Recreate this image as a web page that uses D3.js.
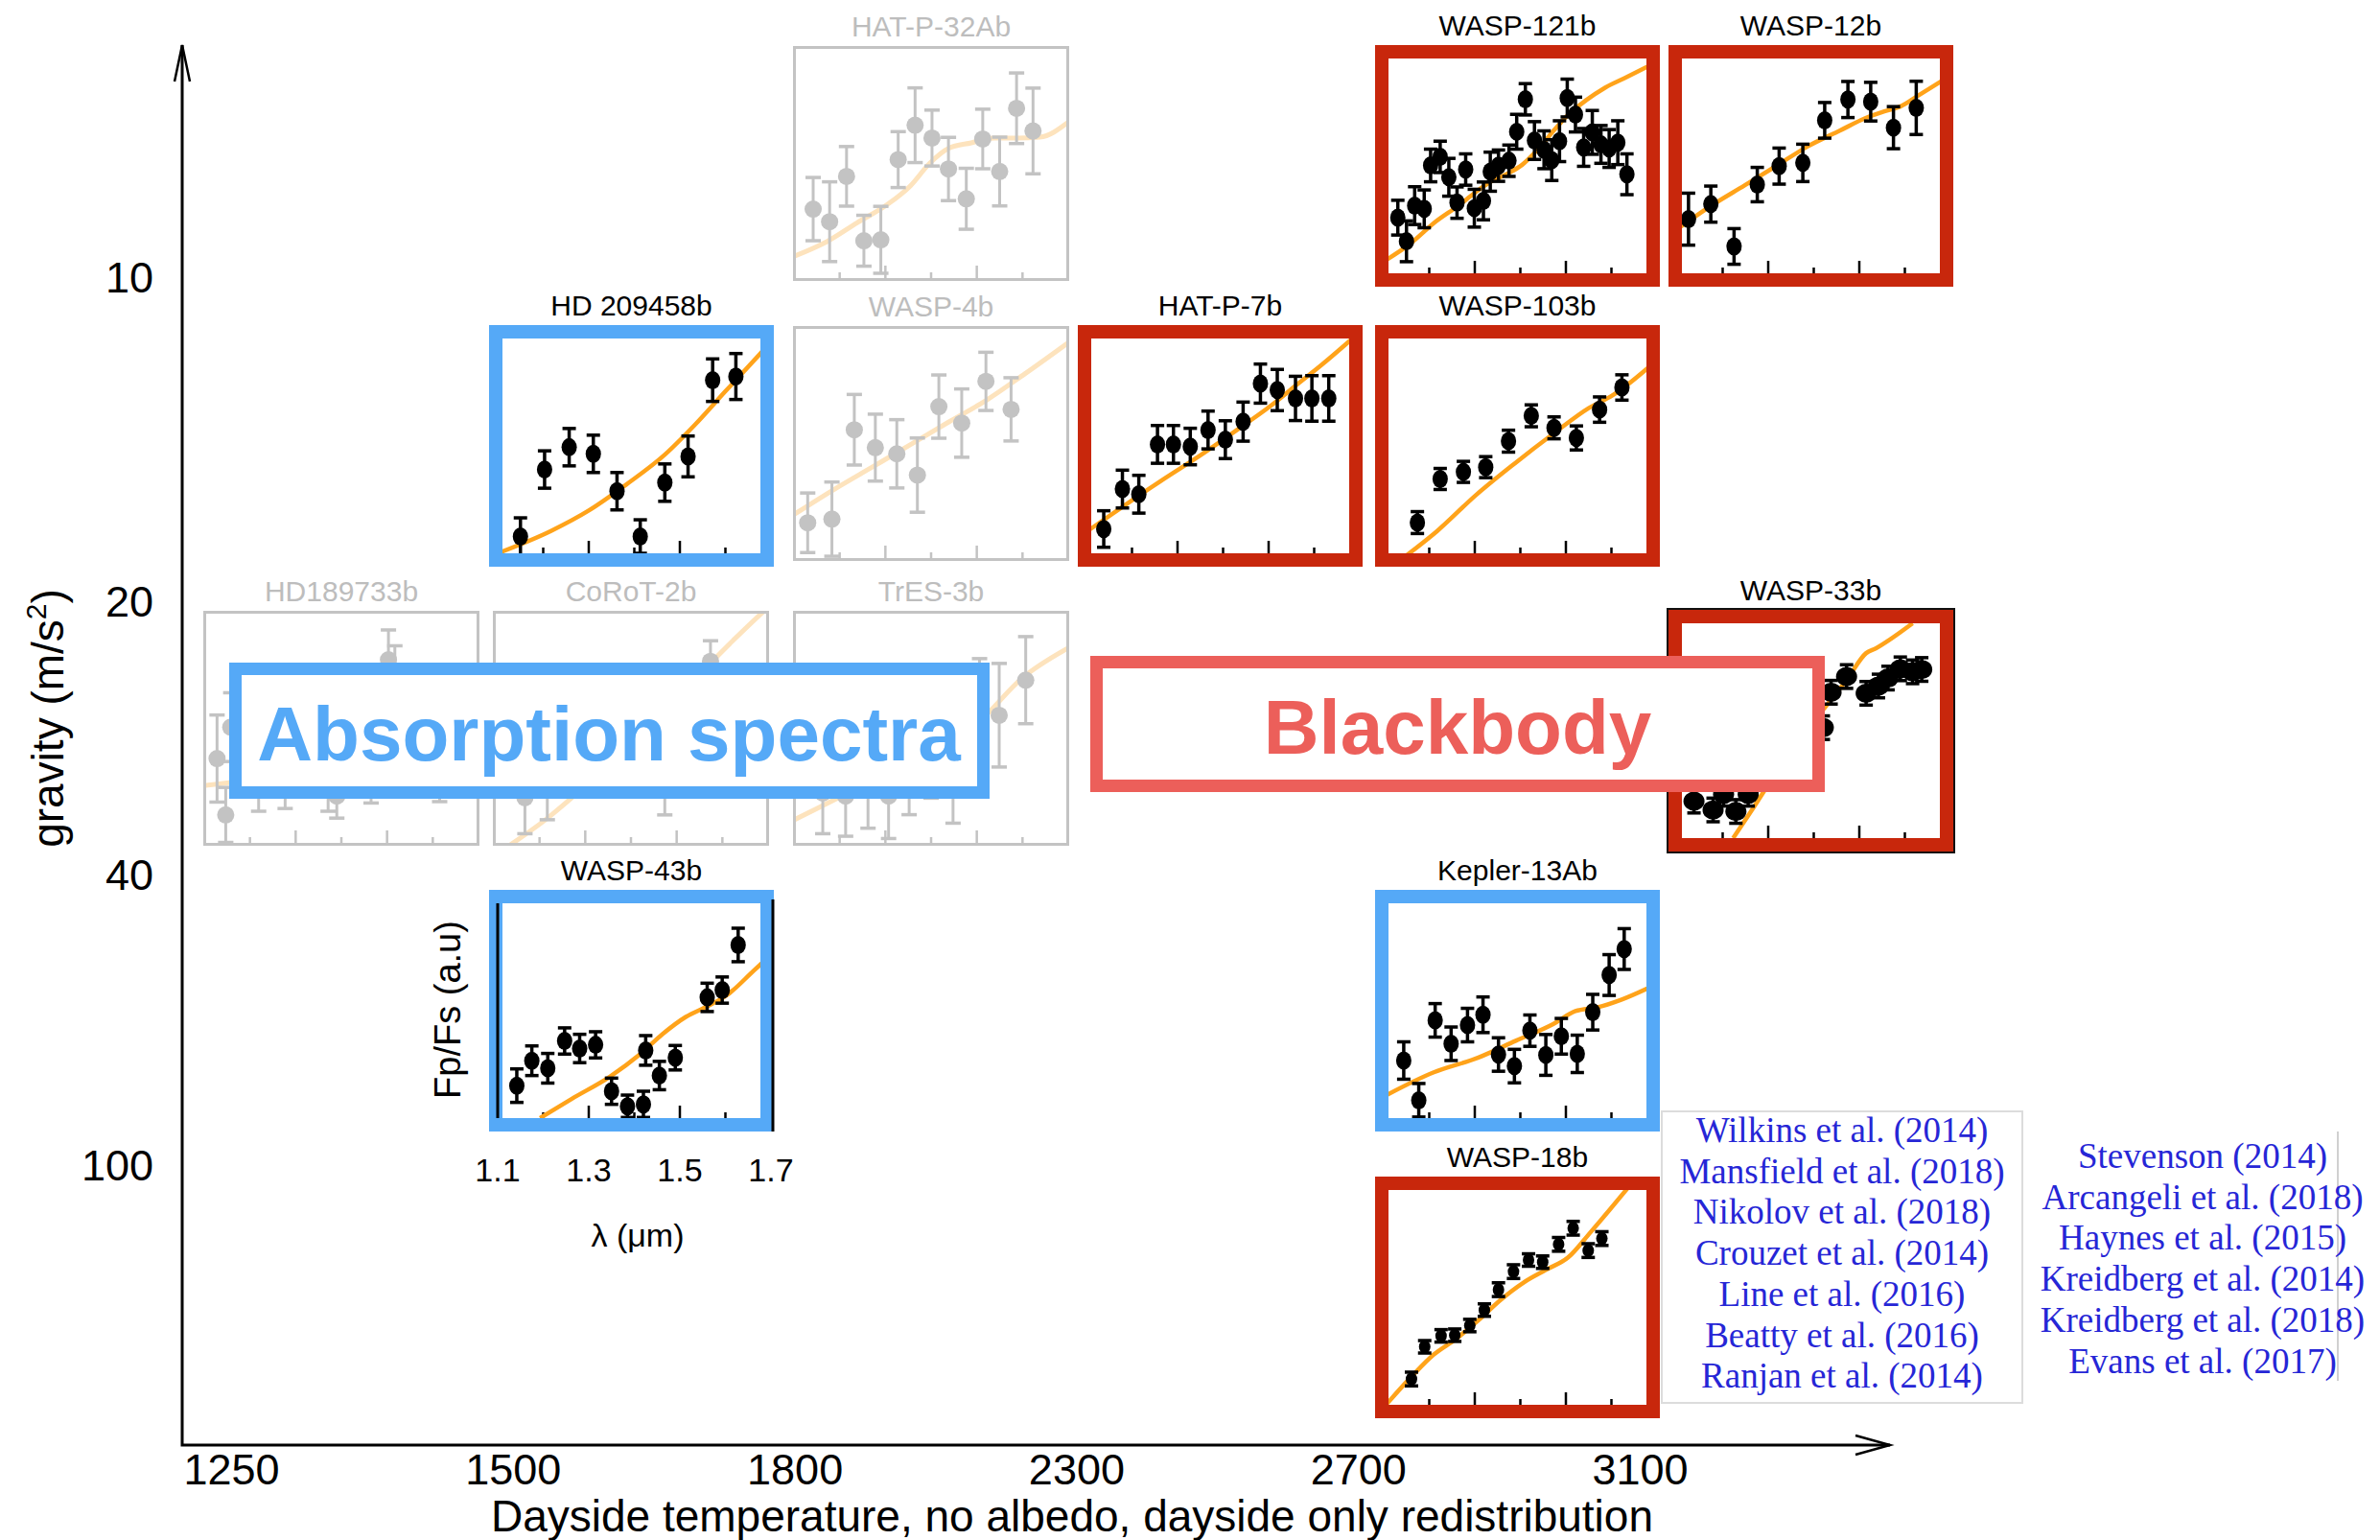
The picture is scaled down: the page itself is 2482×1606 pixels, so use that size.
<!DOCTYPE html>
<html>
<head>
<meta charset="utf-8">
<script src="https://cdn.jsdelivr.net/npm/d3@7"></script>
<style>
  html, body { margin: 0; padding: 0; background: #fff; }
  svg { display: block; }
  text { font-family: "Liberation Sans", Arial, Helvetica, sans-serif; }
</style>
</head>
<body>
<div id="chart"></div>
<script>
const width = 2482;
const height = 1606;

// main axes
const tempTicks = ["1250", "1500", "1800", "2300", "2700", "3100"];
const gravityTicks = [10, 20, 40, 100];

// wavelength ticks inside each small panel
const lambdaTicks = [1.2, 1.3, 1.4, 1.5, 1.6];
const lambdaMajor = [1.3, 1.5];
const lambdaLabels = [1.1, 1.3, 1.5, 1.7];

// spectra: [wavelength um, flux (a.u.), error]
const hatp32Points = [[1.142,0.301,0.138],[1.178,0.246,0.174],[1.215,0.444,0.130],[1.253,0.163,0.111],[1.290,0.167,0.146],[1.328,0.517,0.122],[1.365,0.667,0.163],[1.402,0.611,0.122],[1.438,0.476,0.138],[1.477,0.346,0.133],[1.513,0.607,0.130],[1.550,0.465,0.150],[1.587,0.741,0.154],[1.623,0.642,0.187]];
const hatp32Model = [[1.100,0.095],[1.172,0.159],[1.238,0.241],[1.305,0.322],[1.355,0.403],[1.397,0.501],[1.438,0.566],[1.488,0.590],[1.538,0.611],[1.588,0.611],[1.638,0.615],[1.700,0.680]];

const wasp121Points = [[1.131,0.259,0.081],[1.150,0.149,0.095],[1.168,0.315,0.088],[1.189,0.300,0.088],[1.203,0.502,0.076],[1.224,0.542,0.073],[1.243,0.447,0.088],[1.261,0.329,0.073],[1.280,0.483,0.073],[1.299,0.303,0.088],[1.319,0.337,0.088],[1.334,0.473,0.091],[1.352,0.501,0.073],[1.375,0.524,0.073],[1.392,0.659,0.081],[1.411,0.810,0.073],[1.431,0.618,0.088],[1.452,0.575,0.088],[1.469,0.527,0.095],[1.486,0.615,0.095],[1.503,0.816,0.088],[1.521,0.739,0.081],[1.539,0.586,0.088],[1.558,0.656,0.102],[1.577,0.600,0.088],[1.595,0.581,0.088],[1.614,0.608,0.102],[1.634,0.461,0.095]];
const wasp121Model = [[1.100,0.055],[1.159,0.139],[1.215,0.242],[1.264,0.315],[1.299,0.373],[1.334,0.425],[1.369,0.461],[1.404,0.505],[1.439,0.578],[1.474,0.666],[1.502,0.732],[1.544,0.805],[1.586,0.864],[1.635,0.915],[1.700,0.985]];

const wasp12Points = [[1.125,0.252,0.121],[1.174,0.322,0.084],[1.225,0.125,0.083],[1.276,0.413,0.080],[1.324,0.499,0.084],[1.376,0.514,0.087],[1.424,0.712,0.083],[1.475,0.809,0.084],[1.525,0.799,0.090],[1.575,0.678,0.098],[1.625,0.770,0.124]];
const wasp12Model = [[1.100,0.205],[1.178,0.319],[1.248,0.409],[1.317,0.499],[1.387,0.591],[1.457,0.664],[1.513,0.722],[1.555,0.754],[1.590,0.776],[1.632,0.831],[1.700,0.920]];

const hd209Points = [[1.150,0.078,0.087],[1.203,0.390,0.087],[1.257,0.494,0.087],[1.310,0.463,0.087],[1.362,0.289,0.087],[1.413,0.078,0.078],[1.467,0.329,0.087],[1.518,0.451,0.095],[1.572,0.806,0.099],[1.623,0.823,0.107]];
const hd209Model = [[1.100,0.000],[1.217,0.104],[1.300,0.199],[1.383,0.321],[1.467,0.459],[1.533,0.598],[1.600,0.754],[1.683,0.945],[1.700,0.985]];

const wasp4Points = [[1.130,0.154,0.130],[1.183,0.170,0.162],[1.232,0.560,0.154],[1.278,0.482,0.146],[1.325,0.455,0.149],[1.370,0.362,0.162],[1.417,0.661,0.138],[1.467,0.589,0.149],[1.520,0.771,0.127],[1.575,0.649,0.138]];
const wasp4Model = [[1.100,0.190],[1.188,0.300],[1.272,0.398],[1.355,0.495],[1.438,0.593],[1.522,0.690],[1.605,0.804],[1.700,0.940]];

const hatp7Points = [[1.138,0.113,0.085],[1.179,0.299,0.088],[1.215,0.275,0.088],[1.256,0.507,0.088],[1.291,0.507,0.088],[1.328,0.497,0.085],[1.367,0.574,0.088],[1.405,0.529,0.088],[1.444,0.613,0.091],[1.482,0.790,0.091],[1.519,0.760,0.096],[1.559,0.721,0.103],[1.595,0.721,0.106],[1.632,0.721,0.106]];
const hatp7Model = [[1.100,0.100],[1.179,0.216],[1.264,0.338],[1.350,0.456],[1.435,0.581],[1.503,0.684],[1.563,0.787],[1.615,0.875],[1.700,1.030]];

const wasp103Points = [[1.174,0.143,0.051],[1.224,0.346,0.049],[1.275,0.379,0.049],[1.324,0.401,0.049],[1.374,0.522,0.051],[1.424,0.640,0.051],[1.474,0.584,0.051],[1.523,0.537,0.056],[1.574,0.669,0.059],[1.623,0.772,0.059]];
const wasp103Model = [[1.150,-0.010],[1.217,0.103],[1.303,0.272],[1.388,0.419],[1.474,0.559],[1.550,0.676],[1.602,0.735],[1.700,0.900]];

const hd189Points = [[1.128,0.368,0.190],[1.147,0.122,0.120],[1.158,0.505,0.150],[1.219,0.286,0.148],[1.277,0.300,0.150],[1.371,0.286,0.148],[1.390,0.204,0.096],[1.465,0.327,0.153],[1.503,0.799,0.130],[1.517,0.710,0.150],[1.615,0.340,0.160]];
const hd189Model = [[1.100,0.250],[1.300,0.300],[1.500,0.360],[1.700,0.420]];

const corot2Points = [[1.168,0.197,0.157],[1.217,0.231,0.130],[1.265,0.340,0.130],[1.326,0.395,0.140],[1.378,0.450,0.140],[1.474,0.272,0.150],[1.574,0.792,0.090]];
const corot2Model = [[1.135,-0.010],[1.213,0.101],[1.283,0.218],[1.400,0.420],[1.500,0.620],[1.578,0.792],[1.690,1.010]];

const tres3Points = [[1.163,0.218,0.178],[1.213,0.204,0.175],[1.262,0.259,0.195],[1.307,0.204,0.185],[1.352,0.313,0.190],[1.400,0.395,0.200],[1.448,0.286,0.200],[1.506,0.587,0.217],[1.549,0.557,0.226],[1.607,0.710,0.190]];
const tres3Model = [[1.100,0.100],[1.200,0.200],[1.300,0.300],[1.400,0.400],[1.500,0.520],[1.600,0.720],[1.700,0.850]];

const wasp33Points = [[1.137,0.172,0.055],[1.179,0.131,0.055],[1.202,0.204,0.055],[1.229,0.124,0.055],[1.256,0.204,0.055],[1.287,0.277,0.055],[1.313,0.336,0.055],[1.340,0.394,0.055],[1.367,0.453,0.055],[1.394,0.496,0.055],[1.421,0.514,0.055],[1.438,0.679,0.055],[1.472,0.752,0.055],[1.515,0.674,0.055],[1.542,0.708,0.055],[1.563,0.745,0.055],[1.590,0.788,0.055],[1.617,0.774,0.055],[1.637,0.785,0.055]];
const wasp33Model = [[1.223,0.000],[1.260,0.117],[1.313,0.292],[1.361,0.453],[1.421,0.599],[1.475,0.745],[1.515,0.861],[1.536,0.883],[1.569,0.927],[1.617,1.000]];

const wasp43Points = [[1.142,0.151,0.078],[1.175,0.267,0.069],[1.210,0.232,0.069],[1.247,0.359,0.061],[1.280,0.324,0.066],[1.315,0.341,0.061],[1.350,0.125,0.061],[1.385,0.055,0.052],[1.420,0.064,0.061],[1.425,0.315,0.069],[1.455,0.198,0.066],[1.490,0.281,0.057],[1.560,0.562,0.066],[1.593,0.596,0.061],[1.628,0.806,0.078]];
const wasp43Model = [[1.193,0.000],[1.263,0.090],[1.347,0.194],[1.413,0.298],[1.463,0.393],[1.513,0.471],[1.563,0.523],[1.605,0.575],[1.663,0.688],[1.700,0.760]];

const kepler13Points = [[1.144,0.268,0.087],[1.177,0.083,0.078],[1.213,0.455,0.078],[1.248,0.346,0.078],[1.284,0.433,0.078],[1.318,0.481,0.083],[1.352,0.296,0.078],[1.387,0.242,0.078],[1.421,0.407,0.073],[1.456,0.294,0.095],[1.490,0.381,0.083],[1.525,0.299,0.087],[1.559,0.493,0.083],[1.595,0.666,0.095],[1.628,0.787,0.095]];
const kepler13Model = [[1.100,0.100],[1.210,0.213],[1.308,0.282],[1.390,0.360],[1.472,0.438],[1.521,0.498],[1.570,0.516],[1.620,0.550],[1.700,0.625]];

const wasp18Points = [[1.161,0.120,0.032],[1.190,0.270,0.029],[1.226,0.321,0.029],[1.256,0.324,0.029],[1.289,0.369,0.029],[1.321,0.441,0.029],[1.352,0.536,0.032],[1.385,0.620,0.032],[1.418,0.674,0.029],[1.449,0.664,0.029],[1.484,0.747,0.032],[1.516,0.822,0.032],[1.549,0.718,0.032],[1.579,0.774,0.032]];
const wasp18Model = [[1.105,0.000],[1.161,0.131],[1.210,0.234],[1.259,0.307],[1.308,0.394],[1.357,0.489],[1.407,0.569],[1.456,0.628],[1.505,0.686],[1.554,0.803],[1.595,0.905],[1.640,1.020]];

// panel grid: planet, column, row, regime
const panels = [
  { name: "HAT-P-32Ab", col: 2, row: 0, kind: "gray", points: hatp32Points, model: hatp32Model },
  { name: "WASP-121b", col: 4, row: 0, kind: "red", points: wasp121Points, model: wasp121Model },
  { name: "WASP-12b", col: 5, row: 0, kind: "red", points: wasp12Points, model: wasp12Model },
  { name: "HD 209458b", col: 1, row: 1, kind: "blue", points: hd209Points, model: hd209Model },
  { name: "WASP-4b", col: 2, row: 1, kind: "gray", points: wasp4Points, model: wasp4Model },
  { name: "HAT-P-7b", col: 3, row: 1, kind: "red", points: hatp7Points, model: hatp7Model },
  { name: "WASP-103b", col: 4, row: 1, kind: "red", points: wasp103Points, model: wasp103Model },
  { name: "HD189733b", col: 0, row: 2, kind: "gray", points: hd189Points, model: hd189Model },
  { name: "CoRoT-2b", col: 1, row: 2, kind: "gray", points: corot2Points, model: corot2Model },
  { name: "TrES-3b", col: 2, row: 2, kind: "gray", points: tres3Points, model: tres3Model },
  { name: "WASP-33b", col: 5, row: 2, kind: "red", points: wasp33Points, model: wasp33Model },
  { name: "WASP-43b", col: 1, row: 3, kind: "blue", points: wasp43Points, model: wasp43Model },
  { name: "Kepler-13Ab", col: 4, row: 3, kind: "blue", points: kepler13Points, model: kepler13Model },
  { name: "WASP-18b", col: 4, row: 4, kind: "red", points: wasp18Points, model: wasp18Model }
];

const refsLeft = ["Wilkins et al. (2014)", "Mansfield et al. (2018)", "Nikolov et al. (2018)", "Crouzet et al. (2014)", "Line et al. (2016)", "Beatty et al. (2016)", "Ranjan et al. (2014)"];
const refsRight = ["Stevenson (2014)", "Arcangeli et al. (2018)", "Haynes et al. (2015)", "Kreidberg et al. (2014)", "Kreidberg et al. (2018)", "Evans et al. (2017)"];

const colors = { red: "#C8270C", blue: "#55A9F7", gray: "#C3C3C3", orange: "#FFA31A", paleOrange: "#FDE3BD", salmon: "#EC5F5A", refs: "#2626D6" };
const dotSize = { "WASP-33b": [11, 10], "WASP-18b": [6, 7] };

const svg = d3.select("#chart").append("svg")
  .attr("width", width)
  .attr("height", height);

// ---------- main axes ----------
const origin = { x: 190, y: 1507 };
const xEnd = 1971, yEnd = 47;

const xTemp = d3.scalePoint().domain(tempTicks).range([241, 1710]);
const yGrav = d3.scaleLinear().domain(gravityTicks).range([290, 628, 913, 1216]);

svg.append("path")
  .attr("d", `M${origin.x},${yEnd}V${origin.y}H${xEnd}`)
  .attr("fill", "none").attr("stroke", "#000").attr("stroke-width", 3);
svg.append("path")
  .attr("d", `M${origin.x - 8},${yEnd + 38}L${origin.x},${yEnd}L${origin.x + 8},${yEnd + 38}`)
  .attr("fill", "none").attr("stroke", "#000").attr("stroke-width", 2.5);
svg.append("path")
  .attr("d", `M${xEnd - 36},${origin.y - 10}L${xEnd},${origin.y}L${xEnd - 36},${origin.y + 10}`)
  .attr("fill", "none").attr("stroke", "#000").attr("stroke-width", 2.5);

const xAxisG = svg.append("g")
  .attr("transform", `translate(0,${origin.y})`)
  .call(d3.axisBottom(xTemp).tickSize(0).tickPadding(9));
const yAxisG = svg.append("g")
  .attr("transform", `translate(${origin.x},0)`)
  .call(d3.axisLeft(yGrav).tickValues(gravityTicks).tickSize(0).tickPadding(30).tickFormat(d3.format("d")));
[xAxisG, yAxisG].forEach(g => {
  g.select(".domain").remove();
  g.attr("font-family", "Liberation Sans, Arial, sans-serif").attr("font-size", 45);
  g.selectAll("text").attr("fill", "#000");
});

svg.append("text")
  .attr("x", 1118).attr("y", 1597)
  .attr("text-anchor", "middle")
  .style("font-size", "46px")
  .text("Dayside temperature, no albedo, dayside only redistribution");

const gravLabel = svg.append("text")
  .attr("transform", "translate(66,749) rotate(-90)")
  .attr("text-anchor", "middle")
  .style("font-size", "46px");
gravLabel.append("tspan").text("gravity (m/s");
gravLabel.append("tspan").attr("dy", -18).style("font-size", "30px").text("2");
gravLabel.append("tspan").attr("dy", 18).text(")");

// ---------- spectra panels ----------
const colX = d3.scaleLinear().domain([0, 1, 2, 3, 4, 5]).range([208, 510, 823, 1124, 1434, 1740]);
const rowY = d3.scaleLinear().domain([0, 1, 2, 3, 4]).range([47, 339, 636, 928, 1227]);

const line = d3.line().curve(d3.curveMonotoneX);

function drawPanel(p, i) {
  const gray = p.kind === "gray";
  const x0 = colX(p.col) + (gray ? 4 : 0);
  const y0 = rowY(p.row) + (gray ? 1 : 0);
  const w = gray ? 288 : 297;
  const h = gray ? 245 : 252;
  const fw = gray ? 3 : 14;
  const ink = gray ? colors.gray : "#000";

  const x = d3.scaleLinear().domain([1.1, 1.7]).range(gray ? [x0 + 1, x0 + w - 1] : [x0 + 9, x0 + w - 3]);
  const y = d3.scaleLinear().domain([0, 1]).range([y0 + h - fw, y0 + fw]);

  const g = svg.append("g").attr("class", "panel");
  const clipId = "clip" + i;
  g.append("clipPath").attr("id", clipId)
    .append("rect").attr("x", x0 + fw).attr("y", y0 + fw)
    .attr("width", w - 2 * fw).attr("height", h - 2 * fw);

  g.append("rect").attr("x", x0).attr("y", y0).attr("width", w).attr("height", h).attr("fill", "#fff");

  const body = g.append("g").attr("clip-path", `url(#${clipId})`);

  // inward ticks on the bottom edge
  body.selectAll("line.tick").data(lambdaTicks).join("line")
    .attr("x1", d => x(d)).attr("x2", d => x(d))
    .attr("y1", y0 + h - fw)
    .attr("y2", d => y0 + h - fw - (lambdaMajor.includes(d) ? 13 : 6))
    .attr("stroke", ink).attr("stroke-width", 2.5);

  body.append("path")
    .attr("d", line(p.model.map(d => [x(d[0]), y(d[1])])))
    .attr("fill", "none")
    .attr("stroke", gray ? colors.paleOrange : colors.orange)
    .attr("stroke-width", gray ? 5 : 4.5);

  const pts = body.selectAll("g.pt").data(p.points).join("g");
  const capW = gray ? 8 : 7;
  pts.append("line")
    .attr("x1", d => x(d[0])).attr("x2", d => x(d[0]))
    .attr("y1", d => y(d[1] - d[2])).attr("y2", d => y(d[1] + d[2]))
    .attr("stroke", ink).attr("stroke-width", gray ? 3 : 3.5);
  [-1, 1].forEach(s => {
    pts.append("line")
      .attr("x1", d => x(d[0]) - capW).attr("x2", d => x(d[0]) + capW)
      .attr("y1", d => y(d[1] + s * d[2])).attr("y2", d => y(d[1] + s * d[2]))
      .attr("stroke", ink).attr("stroke-width", 3.5);
  });
  const [rx, ry] = dotSize[p.name] || (gray ? [9, 9] : [8, 9.5]);
  pts.append("ellipse")
    .attr("cx", d => x(d[0])).attr("cy", d => y(d[1]))
    .attr("rx", rx).attr("ry", ry)
    .attr("fill", ink);

  // frame
  g.append("rect")
    .attr("x", x0 + fw / 2).attr("y", y0 + fw / 2)
    .attr("width", w - fw).attr("height", h - fw)
    .attr("fill", "none")
    .attr("stroke", colors[p.kind])
    .attr("stroke-width", fw);
  if (p.name === "WASP-33b") {
    g.append("rect").attr("x", x0 - 1).attr("y", y0 - 1).attr("width", w + 2).attr("height", h + 2)
      .attr("fill", "none").attr("stroke", "#111").attr("stroke-width", 2);
  }

  g.append("text")
    .attr("x", x0 + w / 2).attr("y", y0 - 10)
    .attr("text-anchor", "middle")
    .style("font-size", "30px")
    .attr("fill", gray ? "#BDBDBD" : "#000")
    .text(p.name);

  // WASP-43b carries the wavelength axis for all panels
  if (p.name === "WASP-43b") {
    g.append("line").attr("x1", x(1.1)).attr("x2", x(1.1)).attr("y1", y0 + fw).attr("y2", y0 + h - fw)
      .attr("stroke", "#000").attr("stroke-width", 3);
    g.append("line").attr("x1", x(1.7) + 2).attr("x2", x(1.7) + 2).attr("y1", y0 + 10).attr("y2", y0 + h)
      .attr("stroke", "#000").attr("stroke-width", 3);
    g.selectAll("text.lab").data(lambdaLabels).join("text")
      .attr("x", d => x(d)).attr("y", y0 + h + 52)
      .attr("text-anchor", "middle")
      .style("font-size", "34px")
      .text(d => d3.format(".1f")(d));
    g.append("text")
      .attr("x", x0 + 155).attr("y", y0 + h + 120)
      .attr("text-anchor", "middle")
      .style("font-size", "34px")
      .text("λ (μm)");
    g.append("text")
      .attr("transform", `translate(${x0 - 30},${y0 + 125}) rotate(-90)`)
      .attr("text-anchor", "middle")
      .style("font-size", "38px")
      .text("Fp/Fs (a.u)");
  }
}

panels.filter(p => p.kind === "gray").forEach((p, i) => drawPanel(p, i));
panels.filter(p => p.kind !== "gray").forEach((p, i) => drawPanel(p, i + 20));

// ---------- regime labels ----------
function regimeBox(x0, y0, w, h, color, label, cx) {
  svg.append("rect")
    .attr("x", x0 + 6.5).attr("y", y0 + 6.5)
    .attr("width", w - 13).attr("height", h - 13)
    .attr("fill", "#fff").attr("stroke", color).attr("stroke-width", 13);
  svg.append("text")
    .attr("x", cx).attr("y", y0 + 102)
    .attr("text-anchor", "middle")
    .style("font-size", "80px").style("font-weight", "bold")
    .attr("fill", color)
    .text(label);
}
regimeBox(239, 691, 793, 142, colors.blue, "Absorption spectra", 635);
regimeBox(1137, 684, 766, 142, colors.salmon, "Blackbody", 1520);

// ---------- references ----------
svg.append("rect")
  .attr("x", 1733).attr("y", 1159).attr("width", 376).attr("height", 304)
  .attr("fill", "#fff").attr("stroke", "#dcdcdc").attr("stroke-width", 2);
svg.append("line")
  .attr("x1", 2438).attr("x2", 2438).attr("y1", 1180).attr("y2", 1440)
  .attr("stroke", "#d0d0d0").attr("stroke-width", 2);

const refStep = 42.7;
svg.selectAll("text.refL").data(refsLeft).join("text")
  .attr("x", 1921).attr("y", (d, i) => 1191 + i * refStep)
  .attr("text-anchor", "middle")
  .style("font-family", "'Liberation Serif', 'Times New Roman', serif")
  .style("font-size", "37px")
  .attr("fill", colors.refs)
  .text(d => d);
svg.selectAll("text.refR").data(refsRight).join("text")
  .attr("x", 2297).attr("y", (d, i) => 1218 + i * refStep)
  .attr("text-anchor", "middle")
  .style("font-family", "'Liberation Serif', 'Times New Roman', serif")
  .style("font-size", "37px")
  .attr("fill", colors.refs)
  .text(d => d);
</script>
</body>
</html>
